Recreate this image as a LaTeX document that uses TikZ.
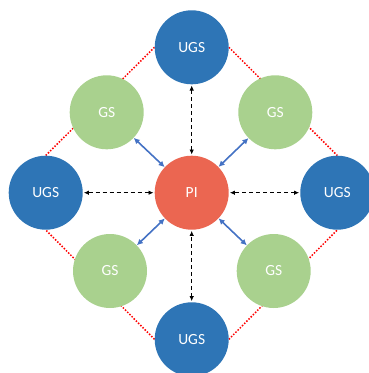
\documentclass[tikz,border=0pt]{standalone}
\usepackage{fontspec}
\setmainfont{Carlito}
\usepackage{tikz}
\usetikzlibrary{arrows.meta}
\pgfdeclarelayer{bg}
\pgfsetlayers{bg,main}
\definecolor{ugsblue}{HTML}{2E75B6}
\definecolor{gsgreen}{HTML}{A9D18E}
\definecolor{pired}{HTML}{EB6651}
\definecolor{linkblue}{HTML}{4472C4}
\tikzset{
  disc/.style={circle, minimum size=74pt, inner sep=0pt, text=white, font=\fontsize{15.5}{18}\selectfont},
  ugs/.style={disc, fill=ugsblue},
  gs/.style={disc, fill=gsgreen},
  pinode/.style={disc, fill=pired},
  reddot/.style={red, line width=1.5pt, dash pattern=on 1.5pt off 1.6pt},
  dasharr/.style={black, line width=0.8pt, dash pattern=on 4pt off 3pt, {Latex[length=5pt,width=4.5pt]}-{Latex[length=5pt,width=4.5pt]}, shorten <=1pt, shorten >=1pt},
  bluearr/.style={linkblue, line width=1.6pt, {Latex[length=6pt,width=6pt]}-{Latex[length=6pt,width=6pt]}}
}
\begin{document}
\begin{tikzpicture}[x=1pt,y=-1pt]
	\useasboundingbox (0,0) rectangle (368,373);
		\node[pinode] (pi) at (191.7,192.7) {PI};
		\node[ugs] (ugsN) at (191.7,47.3) {UGS};
		\node[ugs] (ugsS) at (191.7,339.3) {UGS};
		\node[ugs] (ugsW) at (45.7,192.7) {UGS};
		\node[ugs] (ugsE) at (337.3,192.7) {UGS};
		\node[gs] (gsNW) at (106.7,112.3) {GS};
		\node[gs] (gsNE) at (275.3,112.3) {GS};
		\node[gs] (gsSW) at (110,271) {GS};
		\node[gs] (gsSE) at (273.7,271) {GS};
		% dotted ring behind the discs
		\begin{pgfonlayer}{bg}
		\draw [reddot] (ugsN.west) to (ugsW.north);
		\draw [reddot] (ugsN.east) to (ugsE.north);
		\draw [reddot] (ugsS.west) to (ugsW.south);
		\draw [reddot] (ugsS.east) to (ugsE.south);
		\end{pgfonlayer}
		\draw [dasharr] (ugsN) to (pi);
		\draw [dasharr] (ugsS) to (pi);
		\draw [dasharr] (ugsW) to (pi);
		\draw [dasharr] (ugsE) to (pi);
		\draw [bluearr] (gsNW) to (pi);
		\draw [bluearr] (gsNE) to (pi);
		\draw [bluearr] (gsSW) to (pi);
		\draw [bluearr] (gsSE) to (pi);
	\end{tikzpicture}
\end{document}
